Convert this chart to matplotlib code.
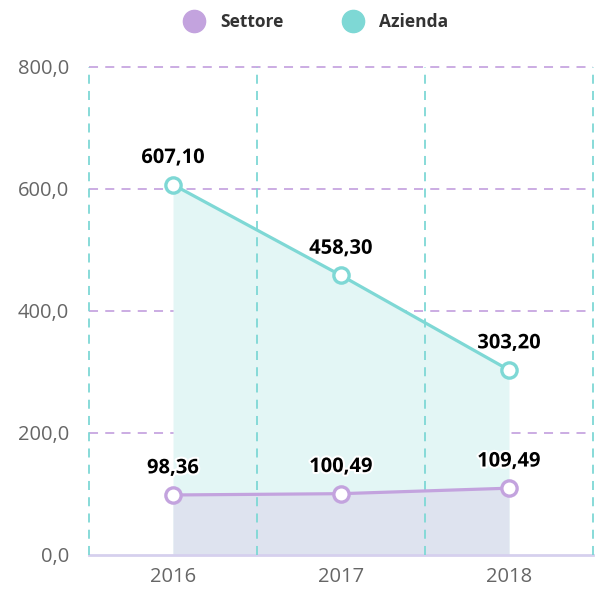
import matplotlib
matplotlib.use("Agg")
import matplotlib.pyplot as plt
import matplotlib.patheffects as pe
from matplotlib.lines import Line2D

plt.rcParams['font.family'] = ['Open Sans', 'DejaVu Sans']

years = ["2016", "2017", "2018"]
settore = [98.36, 100.49, 109.49]
azienda = [607.10, 458.30, 303.20]
settore_labels = ["98,36", "100,49", "109,49"]
azienda_labels = ["607,10", "458,30", "303,20"]
yticks = [0, 200, 400, 600, 800]
ytick_labels = ["0,0", "200,0", "400,0", "600,0", "800,0"]

c_set = "#c3a3de"
c_az = "#7ed8d5"

fig = plt.figure(figsize=(5.95, 5.99), dpi=100)
ax = fig.add_axes([0.1496, 0.0735, 0.847, 0.8147])
x = list(range(len(years)))

ax.fill_between(x, azienda, 0, color="#e3f6f5", zorder=1, linewidth=0)
ax.fill_between(x, settore, 0, color="#dee3ef", zorder=2, linewidth=0)

for yv in yticks[1:]:
    ax.axhline(yv, color="#c7a6e0", linestyle=(0, (5, 4)), linewidth=1.3, zorder=0.5, clip_on=False)
ax.axhline(0, color="#d6d0ee", linewidth=2.0, zorder=3, clip_on=False)
for xv in [-0.5, 0.5, 1.5, 2.5]:
    ax.axvline(xv, color="#7ed8d5", linestyle=(0, (5, 4)), linewidth=1.3, zorder=4, clip_on=False)

ax.plot(x, azienda, color=c_az, linewidth=2.3, marker='o', markersize=11,
        markerfacecolor='white', markeredgecolor=c_az, markeredgewidth=2.4, zorder=5)
ax.plot(x, settore, color=c_set, linewidth=2.3, marker='o', markersize=11,
        markerfacecolor='white', markeredgecolor=c_set, markeredgewidth=2.4, zorder=5)

stroke = [pe.withStroke(linewidth=3, foreground='white')]
for xi, v, lab in zip(x, azienda, azienda_labels):
    ax.annotate(lab, (xi, v), xytext=(0, 12), textcoords='offset points', ha='center',
                va='bottom', fontsize=14.5, fontweight='bold', color='black',
                path_effects=stroke, zorder=6)
for xi, v, lab in zip(x, settore, settore_labels):
    ax.annotate(lab, (xi, v), xytext=(0, 12), textcoords='offset points', ha='center',
                va='bottom', fontsize=14.5, fontweight='bold', color='black',
                path_effects=stroke, zorder=6)

ax.set_xlim(-0.5, 2.5)
ax.set_ylim(0, 800)
ax.set_yticks(yticks)
ax.set_yticklabels(ytick_labels)
ax.set_xticks(x)
ax.set_xticklabels(years)
ax.tick_params(axis='both', length=0, labelsize=14.5, colors="#666666")
ax.tick_params(axis='y', pad=14.5)
ax.tick_params(axis='x', pad=9)
for s in ax.spines.values():
    s.set_visible(False)

handles = [Line2D([], [], linestyle='none', marker='o', markersize=16, color=c_set),
           Line2D([], [], linestyle='none', marker='o', markersize=16, color=c_az)]
leg = fig.legend(handles, ["Settore", "Azienda"], loc='center', bbox_to_anchor=(0.525, 0.963),
                 ncol=2, frameon=False, prop={'weight': 'bold', 'size': 12.5},
                 columnspacing=3.0, handletextpad=0.5)
for t in leg.get_texts():
    t.set_color("#333333")

fig.savefig("out.png", dpi=100)
